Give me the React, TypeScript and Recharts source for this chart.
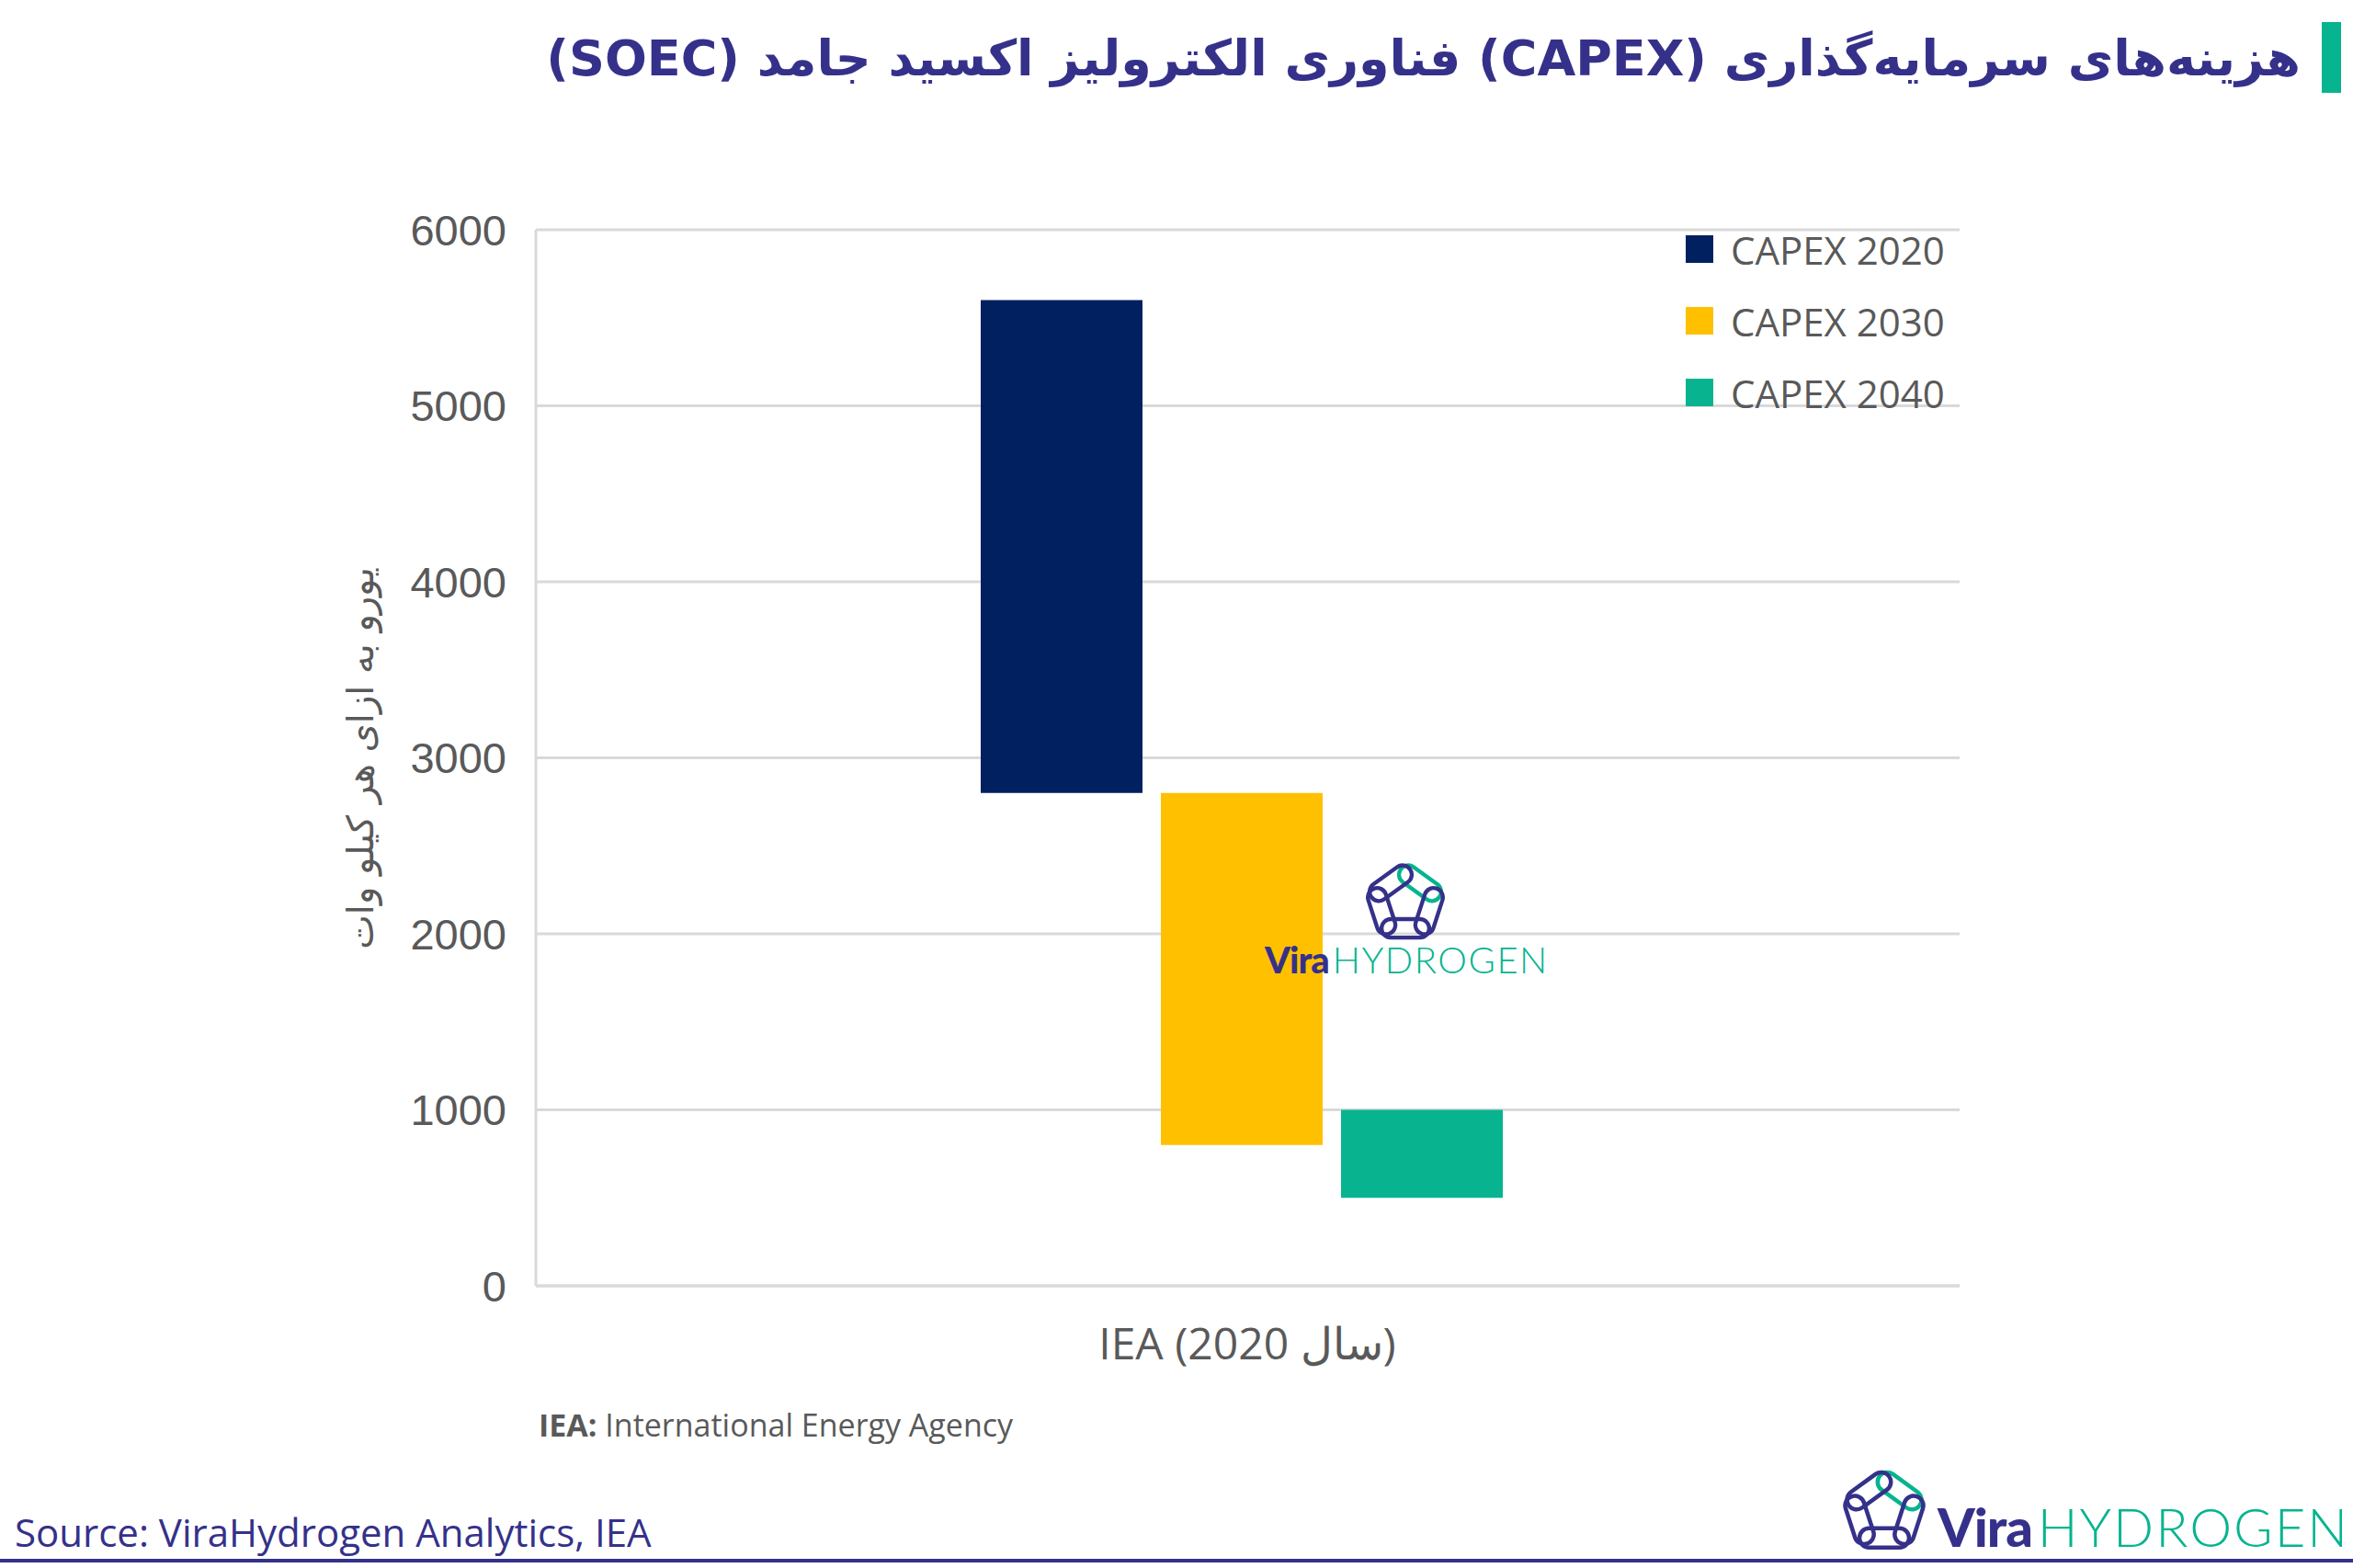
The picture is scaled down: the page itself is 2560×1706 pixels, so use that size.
import React from "react";
import { Bar, BarChart, CartesianGrid, Legend, XAxis, YAxis } from "recharts";

// values (EUR per kW), floating ranges [low, high]
const categories = ["IEA (سال 2020)"];
const capex2020 = [[2800, 5600]];
const capex2030 = [[800, 2800]];
const capex2040 = [[500, 1000]];
const seriesNames = ["CAPEX 2020", "CAPEX 2030", "CAPEX 2040"];
const yTicks = [0, 1000, 2000, 3000, 4000, 5000, 6000];

const INDIGO = "#35318a";
const GREEN = "#06b48f";
const GREY = "#595959";
const GRID = "#d9d9d9";

const data = categories.map((name, i) => ({
  name,
  c2020: capex2020[i],
  c2030: capex2030[i],
  c2040: capex2040[i],
}));

// chain-link pentagon of the ViraHydrogen logo
function LogoIcon({ size, style }: { size: number; style?: React.CSSProperties }) {
  const cx = 50;
  const cy = 53;
  const r = 35;
  const pts = [0, 1, 2, 3, 4].map((k) => {
    const a = ((-90 + 72 * k) * Math.PI) / 180;
    return [cx + r * Math.cos(a), cy + r * Math.sin(a)];
  });
  const links = pts.map((p, k) => {
    const q = pts[(k + 1) % 5];
    const mx = (p[0] + q[0]) / 2;
    const my = (p[1] + q[1]) / 2;
    const ang = (Math.atan2(q[1] - p[1], q[0] - p[0]) * 180) / Math.PI;
    return { mx, my, ang, green: k === 0 };
  });
  return (
    <svg width={size} height={size} viewBox="0 0 100 100" style={style}>
      {links.map((l, i) => (
        <rect
          key={i}
          x={l.mx - 27}
          y={l.my - 10.5}
          width={54}
          height={21}
          rx={10.5}
          fill="none"
          stroke={l.green ? GREEN : INDIGO}
          strokeWidth={4.5}
          transform={`rotate(${l.ang} ${l.mx} ${l.my})`}
        />
      ))}
    </svg>
  );
}

function Wordmark({ size, spacing, style }: { size: number; spacing: number; style?: React.CSSProperties }) {
  return (
    <div style={{ display: "flex", alignItems: "baseline", whiteSpace: "nowrap", ...style }}>
      <span style={{ fontFamily: "Lato, 'Open Sans', sans-serif", fontWeight: 900, fontSize: size, color: INDIGO, letterSpacing: -1 }}>
        Vira
      </span>
      <span style={{ fontFamily: "Lato, 'Open Sans', sans-serif", fontWeight: 300, fontSize: size, color: GREEN, letterSpacing: spacing, marginLeft: size * 0.1 }}>
        HYDROGEN
      </span>
    </div>
  );
}

function LegendBox(props: any) {
  const items = props.payload || [];
  return (
    <div style={{ fontFamily: "'Open Sans', sans-serif" }}>
      {items.map((it: any) => (
        <div key={it.value} style={{ display: "flex", alignItems: "center", height: 78 }}>
          <span style={{ width: 30, height: 30, background: it.color, display: "inline-block", marginRight: 19 }} />
          <span style={{ fontSize: 42, color: GREY }}>{it.value}</span>
        </div>
      ))}
    </div>
  );
}

export default function App() {
  return (
    <div style={{ position: "absolute", left: 0, top: 0, width: 2560, height: 1706, background: "#fff", overflow: "hidden" }}>
      <div style={{ position: "absolute", right: 57, top: 32, direction: "rtl", fontFamily: "'DejaVu Sans', sans-serif", fontWeight: 700, fontSize: 54, color: INDIGO, whiteSpace: "nowrap" }}>
        هزینه‌های سرمایه‌گذاری (CAPEX) فناوری الکترولیز اکسید جامد (SOEC)
      </div>
      <div style={{ position: "absolute", left: 2526, top: 24, width: 21, height: 77, background: GREEN }} />

      <div style={{ position: "absolute", left: 0, top: 0 }}>
        <BarChart
          width={2560}
          height={1706}
          data={data}
          margin={{ top: 250, right: 428, bottom: 207, left: 383 }}
          barSize={176}
          barGap={20}
        >
          <CartesianGrid vertical={false} stroke={GRID} strokeWidth={3} />
          <XAxis
            dataKey="name"
            height={100}
            padding={{ left: 0, right: 13 }}
            axisLine={{ stroke: GRID, strokeWidth: 3 }}
            tickLine={false}
            tickMargin={40}
            tick={{ fill: GREY, fontSize: 48, fontFamily: "'Open Sans', sans-serif", dx: 6 }}
          />
          <YAxis
            width={200}
            domain={[0, 6000]}
            ticks={yTicks}
            axisLine={{ stroke: GRID, strokeWidth: 3 }}
            tickLine={false}
            tickMargin={26}
            tick={{ fill: GREY, fontSize: 47, fontFamily: "'Liberation Sans', sans-serif" }}
            label={{
              content: () => (
                <text
                  x={392}
                  y={825}
                  transform="rotate(-90 392 825)"
                  textAnchor="middle"
                  dominantBaseline="central"
                  fill={GREY}
                  fontSize={40}
                  fontFamily="'DejaVu Sans', sans-serif"
                >
                  یورو به ازای هر کیلو وات
                </text>
              ),
            }}
          />
          <Legend
            layout="vertical"
            align="center"
            verticalAlign="middle"
            content={LegendBox}
            wrapperStyle={{ top: 232, left: 1834, width: 320 }}
          />
          <Bar dataKey="c2020" name={seriesNames[0]} fill="#002060" isAnimationActive={false} />
          <Bar dataKey="c2030" name={seriesNames[1]} fill="#ffc000" isAnimationActive={false} />
          <Bar dataKey="c2040" name={seriesNames[2]} fill="#08b48f" isAnimationActive={false} />
        </BarChart>
      </div>

      <LogoIcon size={96} style={{ position: "absolute", left: 1481, top: 932 }} />
      <Wordmark size={40} spacing={1.5} style={{ position: "absolute", left: 1376, top: 1020 }} />

      <div style={{ position: "absolute", left: 586, top: 1527, fontFamily: "'Open Sans', sans-serif", fontSize: 34, color: GREY }}>
        <b>IEA:</b> International Energy Agency
      </div>

      <div style={{ position: "absolute", left: 16, top: 1638, fontFamily: "'Open Sans', sans-serif", fontSize: 42, color: INDIGO }}>
        Source: ViraHydrogen Analytics, IEA
      </div>
      <LogoIcon size={100} style={{ position: "absolute", left: 2000, top: 1592 }} />
      <Wordmark size={58} spacing={2} style={{ position: "absolute", left: 2108, top: 1626 }} />
      <div style={{ position: "absolute", left: 0, top: 1696, width: 2560, height: 4, background: INDIGO }} />
    </div>
  );
}
